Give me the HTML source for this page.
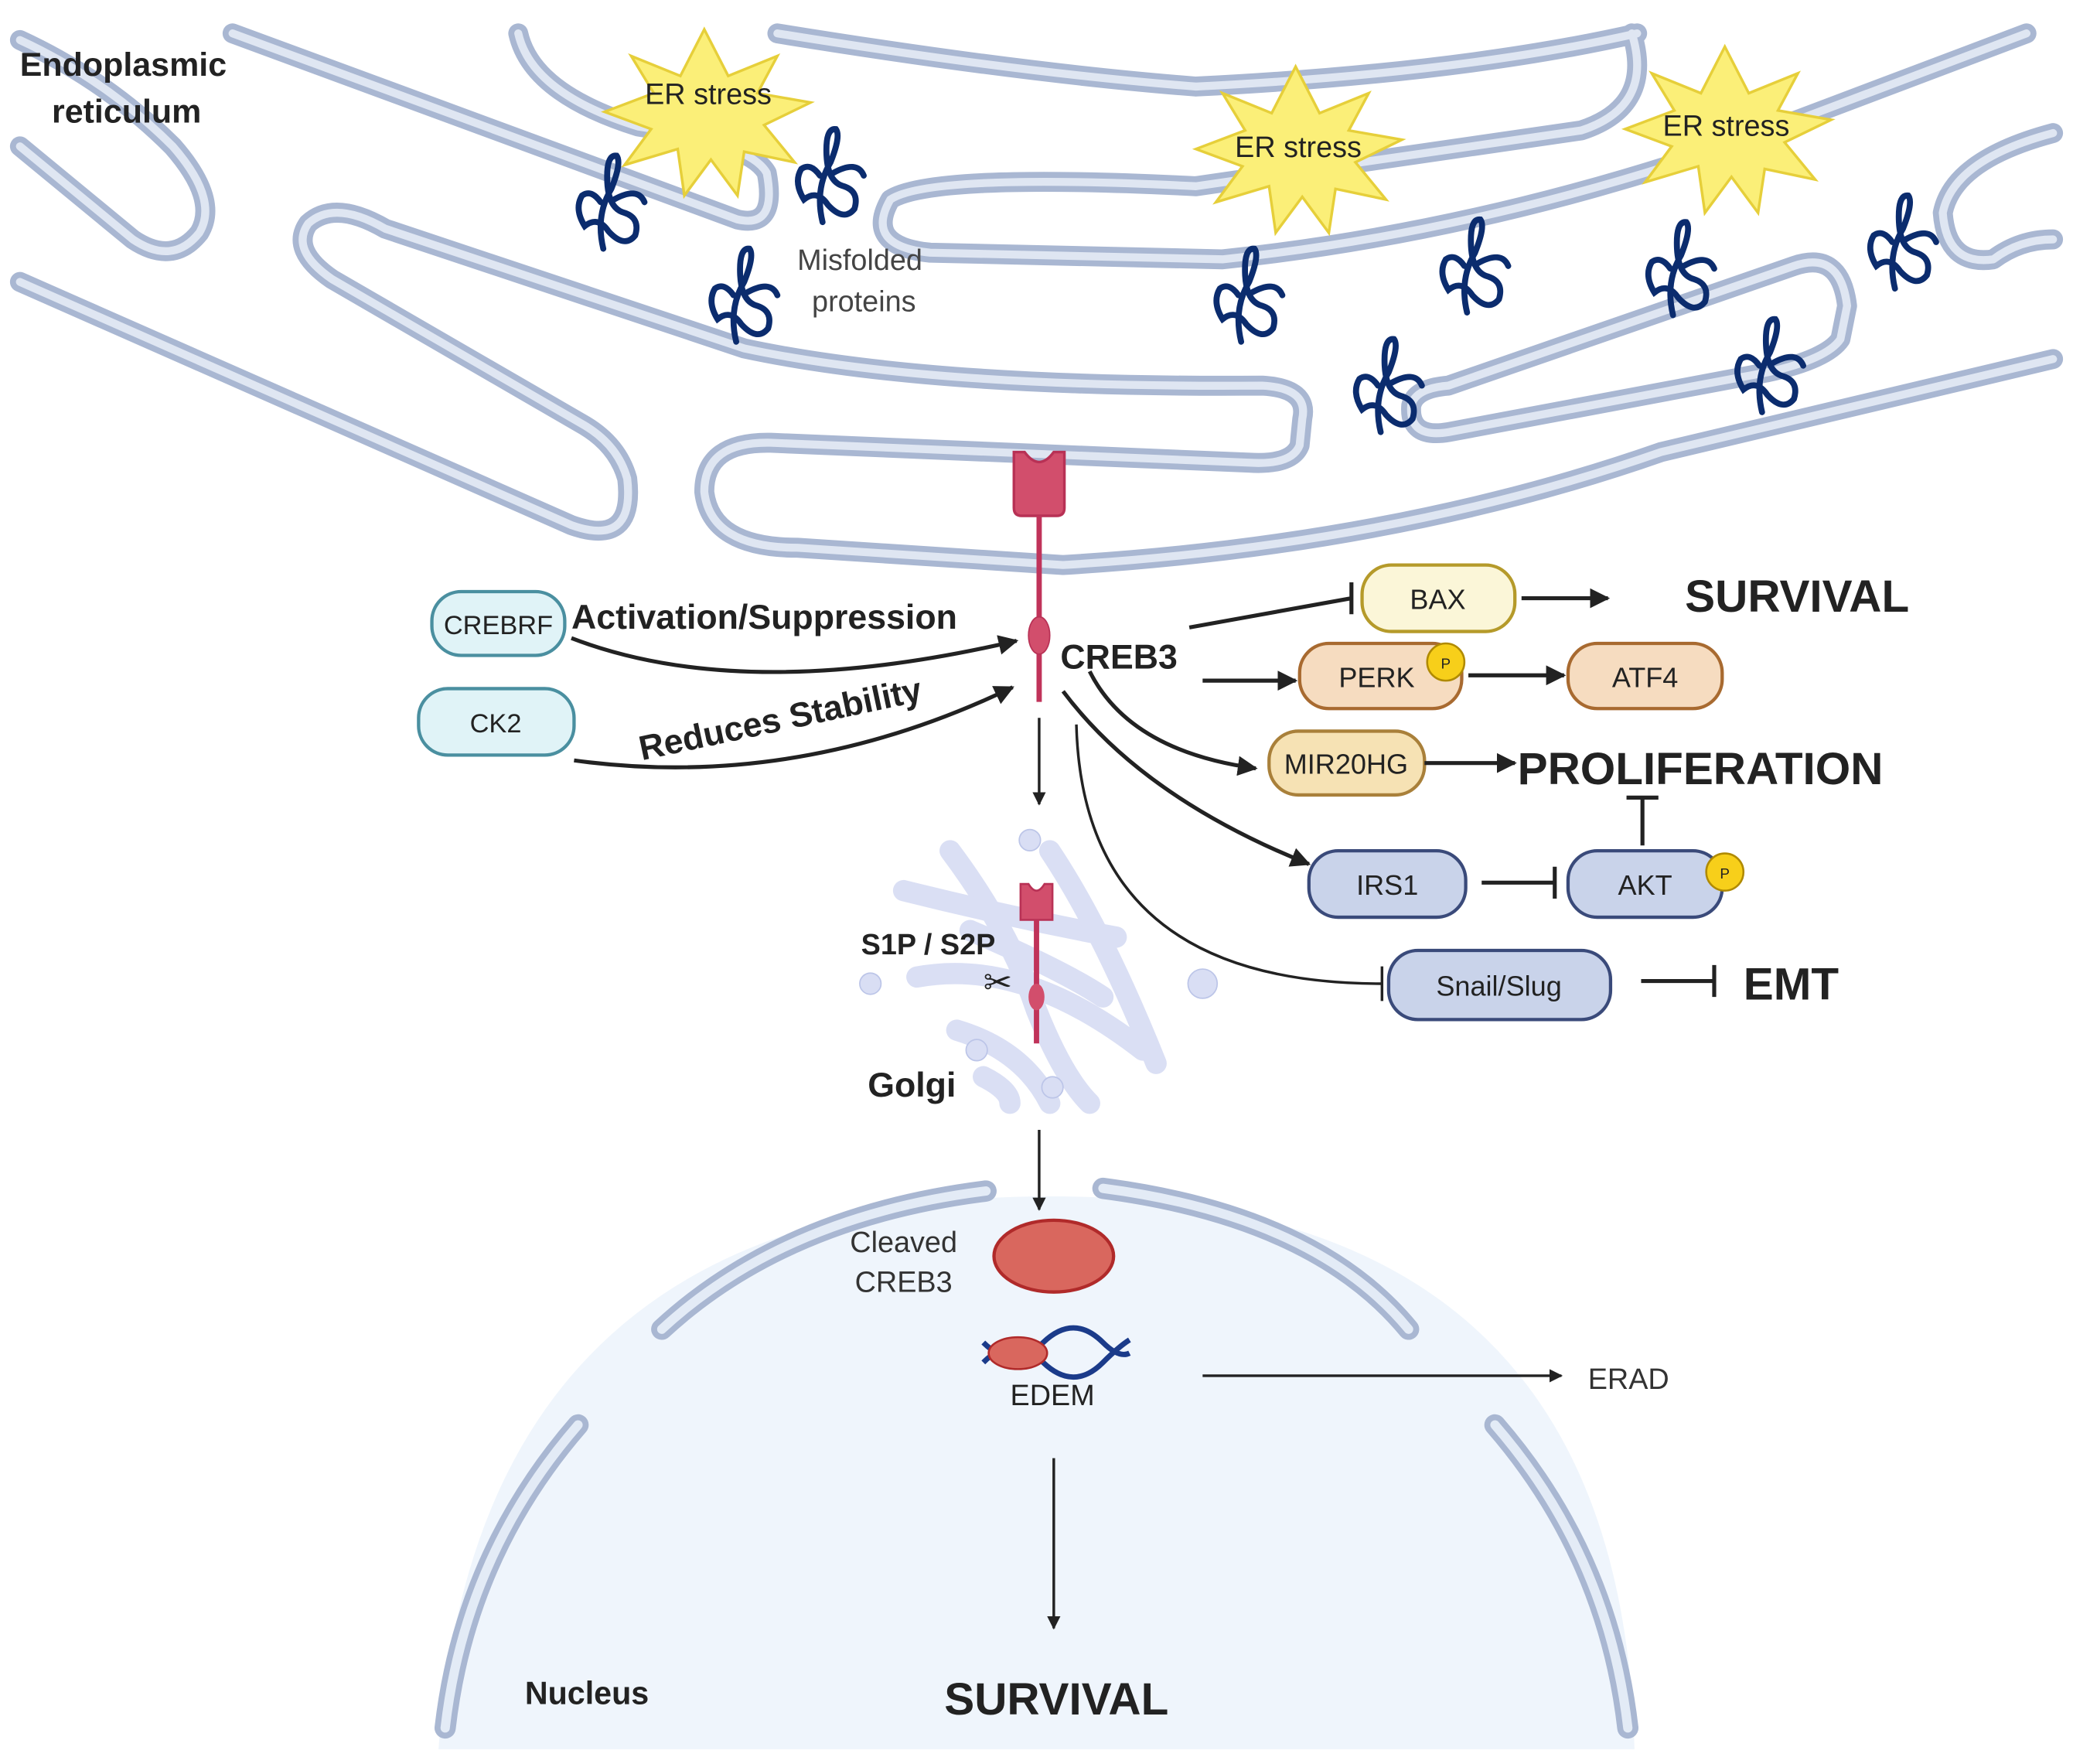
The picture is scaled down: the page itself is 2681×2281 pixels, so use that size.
<!DOCTYPE html>
<html><head><meta charset="utf-8"><style>html,body{margin:0;padding:0;background:#fff}svg{display:block}</style></head>
<body>
<svg width="2681" height="2281" viewBox="0 0 1560 1327" xmlns="http://www.w3.org/2000/svg" font-family="Liberation Sans, sans-serif">
<defs>
<marker id="ar" viewBox="0 0 10 10" refX="9" refY="5" markerWidth="5" markerHeight="5" orient="auto"><path d="M0,0 L10,5 L0,10 z" fill="#222"/></marker>
<path id="pr" d="M-6,35 Q-12,10 0,-10 Q8,-30 4,-35 Q-4,-36 -3,-15 Q-2,5 10,8 Q22,12 18,25 Q10,35 -2,22 Q-10,10 -20,18 Q-28,5 -22,-5 Q-15,-10 -8,0 M2,-2 Q20,-12 25,0"/>
</defs>
<rect width="1560" height="1327" fill="#fff"/>
<!-- ER tubes -->
<g fill="none" stroke-linecap="round" stroke-linejoin="round">
<g stroke="#a9b7d2" stroke-width="15">
<path d="M15,30 Q80,60 130,110 Q165,150 150,175 Q130,200 100,180 L15,110"/>
<path d="M175,25 L555,165 Q585,172 577,130 Q565,108 480,95 Q400,70 390,25"/>
<path d="M585,25 Q770,55 900,65 Q1100,55 1232,25"/>
<path d="M1228,25 Q1245,80 1190,98 L900,140 Q700,130 670,150 Q650,185 700,190 L920,195 Q1110,175 1300,110 L1525,25"/>
<path d="M15,212 L430,395 Q478,412 472,360 Q465,335 440,320 L250,210 Q218,188 232,168 Q252,150 290,172 L560,262 Q700,292 950,290 Q985,292 980,315 L978,335 Q972,350 940,348 L580,333 Q530,332 530,370 Q535,412 600,412 L800,425 Q1050,410 1250,340 L1545,270"/>
<path d="M1545,100 Q1470,120 1462,160 Q1465,200 1500,195 Q1520,180 1545,180"/>
<path d="M1090,290 L1350,200 Q1385,188 1390,230 L1385,255 Q1375,270 1330,280 L1090,325 Q1060,330 1062,305 Q1065,292 1090,290"/>
</g>
<g stroke="#dfe6f2" stroke-width="6">
<path d="M15,30 Q80,60 130,110 Q165,150 150,175 Q130,200 100,180 L15,110"/>
<path d="M175,25 L555,165 Q585,172 577,130 Q565,108 480,95 Q400,70 390,25"/>
<path d="M585,25 Q770,55 900,65 Q1100,55 1232,25"/>
<path d="M1228,25 Q1245,80 1190,98 L900,140 Q700,130 670,150 Q650,185 700,190 L920,195 Q1110,175 1300,110 L1525,25"/>
<path d="M15,212 L430,395 Q478,412 472,360 Q465,335 440,320 L250,210 Q218,188 232,168 Q252,150 290,172 L560,262 Q700,292 950,290 Q985,292 980,315 L978,335 Q972,350 940,348 L580,333 Q530,332 530,370 Q535,412 600,412 L800,425 Q1050,410 1250,340 L1545,270"/>
<path d="M1545,100 Q1470,120 1462,160 Q1465,200 1500,195 Q1520,180 1545,180"/>
<path d="M1090,290 L1350,200 Q1385,188 1390,230 L1385,255 Q1375,270 1330,280 L1090,325 Q1060,330 1062,305 Q1065,292 1090,290"/>
</g>
</g>
<!-- stars -->
<g fill="#fbef78" stroke="#e6cf3a" stroke-width="2">
<polygon transform="translate(0,12)" points="530,10 548,45 585,30 570,58 610,65 575,82 598,110 560,102 555,135 535,108 515,135 510,100 470,112 490,85 455,72 492,58 475,30 512,45" />
<polygon transform="translate(445,40)" points="530,10 548,45 585,30 570,58 610,65 575,82 598,110 560,102 555,135 535,108 515,135 510,100 470,112 490,85 455,72 492,58 475,30 512,45" />
<polygon transform="translate(768,25)" points="530,10 548,45 585,30 570,58 610,65 575,82 598,110 560,102 555,135 535,108 515,135 510,100 470,112 490,85 455,72 492,58 475,30 512,45" />
</g>
<g font-size="22" fill="#222" text-anchor="middle">
<text x="533" y="78">ER stress</text><text x="977" y="118">ER stress</text><text x="1299" y="102">ER stress</text>
</g>
<!-- misfolded proteins -->
<g fill="none" stroke="#0b2c6e" stroke-width="4.5" stroke-linecap="round">
<use href="#pr" x="460" y="152"/><use href="#pr" x="625" y="132"/><use href="#pr" x="560" y="222"/><use href="#pr" x="940" y="222"/><use href="#pr" x="1110" y="200"/><use href="#pr" x="1265" y="202"/><use href="#pr" x="1432" y="182"/><use href="#pr" x="1045" y="290"/><use href="#pr" x="1332" y="275"/>
</g>
<g font-size="22" fill="#444"><text x="600" y="203">Misfolded</text><text x="611" y="234">proteins</text></g>
<g font-size="25" font-weight="bold" fill="#222"><text x="15" y="57">Endoplasmic</text><text x="39" y="92">reticulum</text></g>
<!-- CREB3 in ER -->
<path d="M763,340 L771,340 Q782,355 793,340 L801,340 L801,382 Q801,388 795,388 L769,388 Q763,388 763,382 z" fill="#d24e6c" stroke="#b83155" stroke-width="2"/>
<line x1="782" y1="388" x2="782" y2="528" stroke="#c0335a" stroke-width="4"/>
<ellipse cx="782" cy="478" rx="8" ry="14" fill="#d24e6c" stroke="#b83155"/>
<!-- left nodes -->
<rect x="325" y="445" width="100" height="48" rx="22" fill="#e0f3f7" stroke="#4a8fa0" stroke-width="2.5"/>
<text x="375" y="477" font-size="20" text-anchor="middle" fill="#222">CREBRF</text>
<rect x="315" y="518" width="117" height="50" rx="22" fill="#e0f3f7" stroke="#4a8fa0" stroke-width="2.5"/>
<text x="373" y="551" font-size="20" text-anchor="middle" fill="#222">CK2</text>
<text x="430" y="473" font-size="26" font-weight="bold" fill="#222">Activation/Suppression</text>
<text x="483" y="572" font-size="26" font-weight="bold" fill="#222" transform="rotate(-12 483 572)">Reduces Stability</text>
<g fill="none" stroke="#222" stroke-width="3">
<path d="M430,480 Q560,530 765,482" marker-end="url(#ar)"/>
<path d="M432,572 Q600,595 762,517" marker-end="url(#ar)"/>
</g>
<text x="798" y="503" font-size="26" font-weight="bold" fill="#222">CREB3</text>
<!-- right nodes -->
<g stroke-width="2.5">
<rect x="1025" y="425" width="115" height="50" rx="22" fill="#fbf6d8" stroke="#b59a2a"/>
<rect x="978" y="484" width="122" height="49" rx="22" fill="#f6dcc0" stroke="#a86a30"/>
<rect x="1180" y="484" width="116" height="49" rx="22" fill="#f6dcc0" stroke="#a86a30"/>
<rect x="955" y="550" width="117" height="48" rx="22" fill="#f6e2b4" stroke="#a9803a"/>
<rect x="985" y="640" width="118" height="50" rx="22" fill="#c9d3ea" stroke="#3a4a7a"/>
<rect x="1180" y="640" width="116" height="50" rx="22" fill="#c9d3ea" stroke="#3a4a7a"/>
<rect x="1045" y="715" width="167" height="52" rx="22" fill="#c9d3ea" stroke="#3a4a7a"/>
<circle cx="1088" cy="498" r="14" fill="#f7cf1a" stroke="#b08a00" stroke-width="1.5"/>
<circle cx="1298" cy="656" r="14" fill="#f7cf1a" stroke="#b08a00" stroke-width="1.5"/>
</g>
<g font-size="21" fill="#222" text-anchor="middle">
<text x="1082" y="458">BAX</text><text x="1036" y="517">PERK</text><text x="1238" y="517">ATF4</text>
<text x="1013" y="582">MIR20HG</text><text x="1044" y="673">IRS1</text><text x="1238" y="673">AKT</text><text x="1128" y="749">Snail/Slug</text>
<text x="1088" y="503" font-size="11">P</text><text x="1298" y="661" font-size="11">P</text>
</g>
<g font-size="34" font-weight="bold" fill="#222">
<text x="1268" y="460">SURVIVAL</text><text x="1142" y="590">PROLIFERATION</text><text x="1312" y="752">EMT</text>
</g>
<g fill="none" stroke="#222" stroke-width="3">
<line x1="1145" y1="450" x2="1210" y2="450" marker-end="url(#ar)"/>
<line x1="905" y1="512" x2="975" y2="512" marker-end="url(#ar)"/>
<line x1="1105" y1="508" x2="1177" y2="508" marker-end="url(#ar)"/>
<line x1="1072" y1="574" x2="1140" y2="574" marker-end="url(#ar)"/>
<path d="M895,472 L1017,450 M1017,438 L1017,462"/>
<path d="M820,505 Q850,565 945,578" marker-end="url(#ar)"/>
<path d="M800,520 Q860,600 985,650" marker-end="url(#ar)"/>
<path d="M1115,664 L1170,664 M1170,652 L1170,676"/>
<path d="M1236,636 L1236,600 M1224,600 L1248,600"/>
<path d="M810,545 Q815,740 1040,740 M1040,727 L1040,753" stroke-width="2"/>
<path d="M1235,738 L1290,738 M1290,726 L1290,750"/>
<line x1="782" y1="540" x2="782" y2="605" stroke-width="2" marker-end="url(#ar)"/>
</g>
<!-- Golgi -->
<g fill="none" stroke-linecap="round" stroke="#d9def4" stroke-width="16" opacity="0.95">
<path d="M715,640 Q760,700 780,760 Q800,810 820,830"/>
<path d="M680,670 Q760,690 840,705"/>
<path d="M690,735 Q770,720 860,790"/>
<path d="M720,775 Q770,790 790,830"/>
<path d="M740,810 Q760,820 760,830"/>
<path d="M790,640 Q830,700 870,800"/>
<path d="M730,700 Q800,730 830,750"/>
</g>
<g fill="#d9def4" stroke="#bcc5e8">
<circle cx="775" cy="632" r="8"/><circle cx="655" cy="740" r="8"/><circle cx="905" cy="740" r="11"/><circle cx="735" cy="790" r="8"/><circle cx="792" cy="818" r="8"/>
</g>
<path d="M768,665 L774,665 Q780,675 786,665 L792,665 L792,692 L768,692 z" fill="#d24e6c" stroke="#b83155" stroke-width="1.5"/>
<line x1="780" y1="692" x2="780" y2="785" stroke="#c0335a" stroke-width="4"/>
<ellipse cx="780" cy="750" rx="6" ry="10" fill="#d24e6c"/>
<text x="648" y="718" font-size="22" font-weight="bold" fill="#222">S1P / S2P</text>
<text x="740" y="748" font-size="26" fill="#222">✂</text>
<text x="653" y="825" font-size="26" font-weight="bold" fill="#222">Golgi</text>
<!-- Nucleus -->
<path d="M330,1316 Q360,900 790,900 Q1220,900 1230,1316 z" fill="#eff5fc"/>
<g fill="none" stroke-linecap="round">
<g stroke="#a9b7d2" stroke-width="16">
<path d="M498,1000 Q590,915 742,896"/><path d="M830,894 Q990,915 1060,1000"/>
<path d="M435,1072 Q350,1170 335,1300"/><path d="M1125,1072 Q1210,1170 1225,1300"/>
</g>
<g stroke="#e3ebf6" stroke-width="7">
<path d="M498,1000 Q590,915 742,896"/><path d="M830,894 Q990,915 1060,1000"/>
<path d="M435,1072 Q350,1170 335,1300"/><path d="M1125,1072 Q1210,1170 1225,1300"/>
</g>
</g>
<line x1="782" y1="850" x2="782" y2="910" stroke="#222" stroke-width="2" marker-end="url(#ar)"/>
<ellipse cx="793" cy="945" rx="45" ry="27" fill="#d9675e" stroke="#b02a2a" stroke-width="2.5"/>
<g font-size="22" fill="#333" text-anchor="middle"><text x="680" y="942">Cleaved</text><text x="680" y="972">CREB3</text></g>
<g fill="none" stroke="#1b3b8a" stroke-width="4">
<path d="M740,1010 Q762,1032 785,1010 Q808,988 830,1010 Q842,1022 850,1018"/>
<path d="M740,1025 Q762,1003 785,1025 Q808,1047 830,1025 Q842,1013 850,1008"/>
</g>
<ellipse cx="766" cy="1018" rx="22" ry="12" fill="#d9675e" stroke="#b02a2a" stroke-width="1.5"/>
<text x="792" y="1057" font-size="22" fill="#222" text-anchor="middle">EDEM</text>
<line x1="905" y1="1035" x2="1175" y2="1035" stroke="#222" stroke-width="2" marker-end="url(#ar)"/>
<text x="1195" y="1045" font-size="22" fill="#333">ERAD</text>
<line x1="793" y1="1097" x2="793" y2="1225" stroke="#222" stroke-width="2" marker-end="url(#ar)"/>
<text x="795" y="1290" font-size="34" font-weight="bold" fill="#222" text-anchor="middle">SURVIVAL</text>
<text x="395" y="1282" font-size="24" font-weight="bold" fill="#222">Nucleus</text>
</svg>
</body></html>
